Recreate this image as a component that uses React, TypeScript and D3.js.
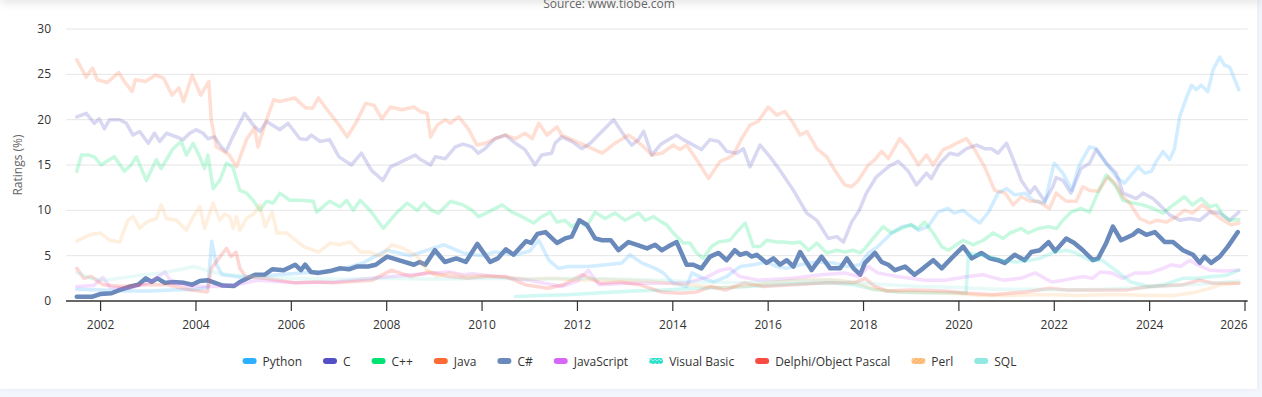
import * as d3 from "d3";

type Pt = [number, number];

const seriesNames = ["Python", "C", "C++", "Java", "C#", "JavaScript", "Visual Basic", "Delphi/Object Pascal", "Perl", "SQL"];
const seriesColors = ["#2caffe", "#544fc5", "#00e272", "#fe6a35", "#6b8abc", "#d568fb", "#2ee0ca", "#fa4b42", "#feb56a", "#91e8e1"];
const activeSeries = "C#";
const xTicks = [2002, 2004, 2006, 2008, 2010, 2012, 2014, 2016, 2018, 2020, 2022, 2024, 2026];
const yTicks = [0, 5, 10, 15, 20, 25, 30];

// [year, rating %]
const python: Pt[] = [[2001.5,1.3],[2002.0,1.2],[2002.5,1.1],[2003.0,1.1],[2003.5,1.2],[2004.0,1.3],[2004.25,1.5],[2004.33,6.6],[2004.43,4.0],[2004.55,2.9],[2005.0,2.6],[2005.5,2.8],[2006.0,3.0],[2006.5,3.2],[2007.0,3.4],[2007.5,4.2],[2008.0,5.6],[2008.5,5.0],[2009.2,6.2],[2009.6,5.3],[2010.0,5.0],[2010.27,5.4],[2010.7,5.1],[2011.0,5.5],[2011.19,6.7],[2011.4,4.5],[2011.6,3.6],[2011.8,3.8],[2012.23,3.8],[2012.6,4.0],[2012.93,4.2],[2013.1,5.1],[2013.35,4.2],[2013.63,3.6],[2013.8,3.1],[2014.0,2.0],[2014.29,1.6],[2014.4,3.1],[2014.64,2.5],[2014.85,2.1],[2015.13,2.7],[2015.41,3.8],[2015.69,4.0],[2015.97,4.3],[2016.18,3.8],[2016.39,3.6],[2016.67,4.0],[2017.02,4.3],[2017.37,4.2],[2017.65,3.8],[2017.93,4.0],[2018.1,5.3],[2018.3,6.0],[2018.59,7.5],[2018.8,8.2],[2019.0,8.4],[2019.15,7.8],[2019.35,8.2],[2019.56,9.8],[2019.77,10.2],[2019.9,9.7],[2020.09,10.0],[2020.3,9.1],[2020.44,8.6],[2020.62,9.8],[2020.82,11.9],[2021.0,12.4],[2021.17,11.7],[2021.38,11.9],[2021.59,11.0],[2021.8,10.8],[2021.92,13.5],[2022.0,15.2],[2022.18,14.1],[2022.37,12.2],[2022.51,14.8],[2022.6,15.7],[2022.74,17.0],[2022.88,16.8],[2023.09,15.2],[2023.3,13.7],[2023.47,13.0],[2023.65,14.1],[2023.76,14.8],[2023.9,14.1],[2024.04,14.3],[2024.14,15.4],[2024.28,16.5],[2024.42,15.6],[2024.52,16.8],[2024.63,20.3],[2024.77,22.4],[2024.88,23.8],[2024.98,23.3],[2025.08,23.8],[2025.22,23.1],[2025.33,25.5],[2025.47,26.9],[2025.57,26.0],[2025.68,25.8],[2025.87,23.3]];

const cLang: Pt[] = [[2001.5,20.3],[2001.7,20.7],[2001.87,19.6],[2001.97,20.1],[2002.08,19.0],[2002.19,20.0],[2002.4,20.0],[2002.54,19.6],[2002.68,18.3],[2002.82,18.7],[2003.0,17.4],[2003.13,18.5],[2003.24,17.6],[2003.38,18.5],[2003.59,18.1],[2003.73,17.8],[2003.87,18.5],[2004.0,18.9],[2004.15,18.5],[2004.25,17.9],[2004.39,18.1],[2004.53,17.0],[2004.63,16.5],[2004.77,18.1],[2005.02,20.7],[2005.2,19.4],[2005.34,18.7],[2005.48,19.8],[2005.76,18.9],[2005.93,19.6],[2006.18,17.9],[2006.32,17.8],[2006.42,18.3],[2006.6,17.6],[2006.8,17.8],[2007.0,15.9],[2007.26,15.0],[2007.47,16.3],[2007.68,14.4],[2007.92,13.3],[2008.08,14.8],[2008.4,15.6],[2008.6,16.1],[2008.71,15.6],[2008.92,15.0],[2009.02,15.9],[2009.23,15.7],[2009.44,17.0],[2009.6,17.3],[2009.79,17.0],[2009.92,16.3],[2010.06,16.8],[2010.27,17.9],[2010.49,18.3],[2010.7,17.4],[2010.9,16.7],[2011.11,15.0],[2011.25,16.1],[2011.46,16.3],[2011.53,17.4],[2011.67,18.1],[2011.88,17.6],[2012.09,16.8],[2012.27,17.4],[2012.44,18.3],[2012.76,20.0],[2013.0,18.1],[2013.14,17.2],[2013.28,17.8],[2013.39,18.7],[2013.56,16.1],[2013.75,17.3],[2013.94,17.9],[2014.08,18.3],[2014.22,17.8],[2014.43,17.2],[2014.6,16.7],[2014.78,17.8],[2014.96,17.6],[2015.13,16.5],[2015.34,16.3],[2015.48,16.8],[2015.62,14.8],[2015.83,17.2],[2016.04,15.9],[2016.25,14.4],[2016.53,12.2],[2016.81,9.7],[2017.02,8.9],[2017.26,6.9],[2017.44,7.1],[2017.58,6.5],[2017.75,8.7],[2017.91,10.0],[2018.06,11.9],[2018.27,13.7],[2018.52,14.8],[2018.73,15.4],[2018.94,14.3],[2019.11,12.8],[2019.32,14.1],[2019.42,13.5],[2019.6,15.2],[2019.81,16.3],[2019.98,16.1],[2020.16,16.8],[2020.37,17.2],[2020.54,16.8],[2020.68,16.8],[2020.82,16.3],[2021.0,17.4],[2021.17,15.2],[2021.31,13.3],[2021.49,11.9],[2021.59,12.6],[2021.8,11.0],[2021.97,12.6],[2022.04,13.6],[2022.18,13.3],[2022.35,11.9],[2022.56,14.6],[2022.74,15.2],[2022.88,16.7],[2023.09,15.2],[2023.3,14.1],[2023.44,11.9],[2023.72,11.3],[2023.86,11.9],[2024.07,11.3],[2024.21,10.6],[2024.42,9.5],[2024.63,8.9],[2024.84,9.1],[2025.05,8.9],[2025.26,9.8],[2025.47,9.7],[2025.68,8.9],[2025.87,9.8]];

const cpp: Pt[] = [[2001.5,14.3],[2001.6,16.1],[2001.75,16.1],[2001.87,15.9],[2002.01,15.0],[2002.19,15.6],[2002.29,15.9],[2002.5,14.3],[2002.64,15.0],[2002.75,15.9],[2002.96,13.3],[2003.17,15.6],[2003.27,14.6],[2003.38,15.6],[2003.52,16.8],[2003.69,17.6],[2003.8,16.1],[2003.94,17.4],[2004.08,15.9],[2004.18,14.6],[2004.25,16.1],[2004.36,12.4],[2004.5,13.3],[2004.64,15.2],[2004.77,14.8],[2004.92,12.2],[2005.06,11.9],[2005.2,11.1],[2005.34,10.0],[2005.48,11.0],[2005.62,10.8],[2005.76,11.9],[2005.97,11.1],[2006.18,11.1],[2006.46,11.0],[2006.53,9.8],[2006.8,11.0],[2007.02,10.4],[2007.16,11.1],[2007.3,10.0],[2007.44,11.1],[2007.65,10.0],[2007.93,8.0],[2008.2,9.7],[2008.43,10.8],[2008.64,10.0],[2008.78,10.8],[2008.95,10.0],[2009.09,9.7],[2009.34,11.0],[2009.6,10.6],[2009.79,10.0],[2009.93,9.3],[2010.13,9.8],[2010.42,10.6],[2010.63,9.8],[2010.84,9.3],[2011.08,8.6],[2011.25,9.3],[2011.43,9.8],[2011.57,8.7],[2011.74,8.9],[2011.88,8.2],[2012.05,8.7],[2012.19,8.2],[2012.37,9.8],[2012.58,9.1],[2012.79,9.7],[2013.0,8.9],[2013.28,9.7],[2013.42,8.9],[2013.6,9.3],[2013.77,8.7],[2013.87,8.4],[2014.01,7.5],[2014.22,6.4],[2014.36,6.4],[2014.5,5.3],[2014.64,4.7],[2014.81,6.0],[2014.96,6.5],[2015.2,6.7],[2015.34,7.6],[2015.52,8.6],[2015.69,6.0],[2015.83,6.0],[2015.97,6.7],[2016.18,6.5],[2016.32,6.5],[2016.53,6.4],[2016.67,6.5],[2016.85,5.6],[2017.02,6.4],[2017.23,5.3],[2017.44,5.6],[2017.61,5.4],[2017.78,5.6],[2017.93,5.3],[2018.03,5.8],[2018.2,6.9],[2018.41,8.2],[2018.59,7.5],[2018.8,8.0],[2019.0,8.4],[2019.14,8.0],[2019.28,8.7],[2019.46,7.5],[2019.64,6.0],[2019.78,5.6],[2019.89,6.0],[2020.09,6.7],[2020.3,6.2],[2020.51,6.7],[2020.72,7.5],[2020.93,6.9],[2021.07,7.5],[2021.31,8.0],[2021.45,7.5],[2021.67,8.0],[2021.88,8.2],[2022.05,8.0],[2022.18,8.9],[2022.35,9.8],[2022.56,10.2],[2022.74,9.8],[2022.88,11.5],[2023.09,13.9],[2023.3,12.6],[2023.44,11.1],[2023.65,10.8],[2023.86,10.6],[2024.07,10.2],[2024.28,9.7],[2024.45,10.4],[2024.73,11.5],[2024.9,10.6],[2025.08,11.3],[2025.26,10.4],[2025.4,10.6],[2025.54,9.5],[2025.68,8.9],[2025.87,9.0]];

const java: Pt[] = [[2001.5,26.6],[2001.7,24.7],[2001.83,25.7],[2001.93,24.4],[2002.14,24.1],[2002.38,25.2],[2002.5,24.2],[2002.66,23.1],[2002.73,24.4],[2002.94,24.2],[2003.15,24.9],[2003.32,24.6],[2003.5,22.7],[2003.64,23.5],[2003.74,22.0],[2003.92,24.9],[2004.1,22.7],[2004.27,24.2],[2004.32,20.0],[2004.43,17.0],[2004.7,16.1],[2004.85,14.8],[2005.06,17.8],[2005.23,19.1],[2005.3,17.0],[2005.48,20.0],[2005.63,22.2],[2005.76,22.0],[2006.07,22.4],[2006.3,21.3],[2006.45,21.3],[2006.57,22.4],[2006.75,21.1],[2007.03,19.2],[2007.17,18.1],[2007.35,19.6],[2007.56,21.8],[2007.73,21.6],[2007.9,20.1],[2008.08,21.4],[2008.32,21.1],[2008.57,21.4],[2008.71,20.9],[2008.85,20.7],[2008.92,18.1],[2009.06,19.4],[2009.23,20.0],[2009.33,19.6],[2009.51,20.3],[2009.62,19.6],[2009.72,18.9],[2009.89,17.2],[2010.07,17.4],[2010.27,17.9],[2010.49,18.3],[2010.7,17.9],[2010.9,18.5],[2011.05,17.9],[2011.19,19.6],[2011.36,18.3],[2011.57,19.2],[2011.67,18.3],[2011.88,17.8],[2012.23,17.0],[2012.52,16.3],[2012.79,17.4],[2013.07,18.3],[2013.21,17.8],[2013.39,17.0],[2013.56,16.1],[2013.77,16.3],[2014.01,17.2],[2014.15,16.7],[2014.29,17.2],[2014.5,15.6],[2014.75,13.5],[2014.99,15.4],[2015.13,15.7],[2015.27,16.1],[2015.44,17.9],[2015.62,19.4],[2015.79,19.8],[2016.0,21.4],[2016.18,20.5],[2016.35,20.9],[2016.53,19.6],[2016.67,18.3],[2016.81,18.7],[2017.02,16.8],[2017.23,15.9],[2017.4,14.4],[2017.61,12.8],[2017.75,12.6],[2017.89,13.3],[2018.1,15.0],[2018.24,15.6],[2018.38,16.5],[2018.52,15.7],[2018.76,17.9],[2018.94,16.8],[2019.15,15.0],[2019.32,16.1],[2019.46,15.0],[2019.67,16.7],[2019.81,17.0],[2019.95,17.4],[2020.16,17.9],[2020.33,16.7],[2020.54,14.8],[2020.75,12.2],[2020.97,11.9],[2021.14,10.6],[2021.31,11.5],[2021.49,11.0],[2021.66,11.0],[2021.9,10.2],[2022.04,11.9],[2022.25,11.0],[2022.46,11.0],[2022.6,12.6],[2022.74,12.2],[2022.92,12.1],[2023.13,13.7],[2023.27,13.0],[2023.44,11.5],[2023.58,10.8],[2023.79,9.1],[2024.0,8.6],[2024.14,8.9],[2024.35,8.7],[2024.56,9.3],[2024.73,10.0],[2024.9,9.7],[2025.11,10.6],[2025.33,9.7],[2025.54,8.9],[2025.71,8.4],[2025.87,8.6]];

const csharp: Pt[] = [[2001.5,0.47],[2001.83,0.47],[2001.99,0.77],[2002.23,0.85],[2002.39,1.2],[2002.63,1.6],[2002.79,1.8],[2002.95,2.5],[2003.07,2.1],[2003.19,2.5],[2003.35,2.0],[2003.51,2.1],[2003.75,2.0],[2003.92,1.8],[2004.08,2.2],[2004.24,2.3],[2004.4,2.0],[2004.56,1.7],[2004.8,1.65],[2004.92,2.1],[2005.08,2.5],[2005.24,2.9],[2005.44,2.9],[2005.6,3.5],[2005.84,3.4],[2006.08,4.0],[2006.2,3.4],[2006.29,4.0],[2006.41,3.2],[2006.57,3.1],[2006.81,3.3],[2007.01,3.6],[2007.21,3.5],[2007.37,3.8],[2007.61,3.8],[2007.77,4.0],[2008.01,4.9],[2008.25,4.5],[2008.57,4.0],[2008.69,4.3],[2008.81,4.0],[2009.01,5.6],[2009.22,4.3],[2009.46,4.7],[2009.66,4.3],[2009.9,6.3],[2010.17,4.3],[2010.33,4.7],[2010.5,5.7],[2010.66,5.1],[2010.92,6.6],[2011.03,6.4],[2011.16,7.4],[2011.33,7.6],[2011.47,6.9],[2011.57,6.4],[2011.74,6.9],[2011.88,7.1],[2012.04,8.9],[2012.2,8.4],[2012.37,6.9],[2012.52,6.7],[2012.7,6.7],[2012.86,5.6],[2013.07,6.5],[2013.25,6.2],[2013.46,5.8],[2013.63,6.2],[2013.77,5.6],[2013.9,6.0],[2014.08,6.5],[2014.29,4.0],[2014.43,4.0],[2014.6,3.6],[2014.78,4.9],[2014.96,5.3],[2015.13,4.5],[2015.3,5.6],[2015.41,5.1],[2015.55,5.3],[2015.65,4.9],[2015.76,5.1],[2015.97,4.2],[2016.11,4.7],[2016.25,4.0],[2016.39,4.5],[2016.53,3.8],[2016.67,5.4],[2016.91,3.4],[2017.12,4.9],[2017.3,3.6],[2017.51,3.6],[2017.65,4.7],[2017.79,3.6],[2017.93,2.9],[2018.03,4.2],[2018.24,5.3],[2018.38,4.3],[2018.52,4.0],[2018.66,3.4],[2018.87,3.8],[2019.07,2.9],[2019.25,3.6],[2019.46,4.5],[2019.64,3.6],[2019.84,4.7],[2020.09,6.0],[2020.27,4.7],[2020.47,5.3],[2020.65,4.7],[2020.82,4.5],[2020.96,4.2],[2021.17,5.1],[2021.38,4.5],[2021.52,5.4],[2021.7,5.6],[2021.88,6.5],[2022.02,5.5],[2022.25,6.9],[2022.42,6.4],[2022.6,5.6],[2022.81,4.5],[2022.92,4.7],[2023.09,6.4],[2023.23,8.2],[2023.4,6.7],[2023.65,7.3],[2023.76,7.8],[2023.93,7.3],[2024.11,7.6],[2024.32,6.5],[2024.49,6.5],[2024.7,5.6],[2024.91,5.1],[2025.05,4.2],[2025.15,4.9],[2025.29,4.2],[2025.47,4.9],[2025.64,6.0],[2025.85,7.6]];

const javascript: Pt[] = [[2001.5,1.6],[2001.85,1.7],[2002.05,2.6],[2002.2,1.5],[2002.6,1.4],[2003.0,2.0],[2003.27,2.9],[2003.35,3.2],[2003.5,2.0],[2003.9,1.6],[2004.47,1.6],[2004.87,1.8],[2005.3,2.3],[2006.08,2.0],[2006.9,2.1],[2007.7,2.5],[2008.5,2.9],[2009.3,3.2],[2009.6,2.9],[2009.8,3.0],[2010.3,2.7],[2010.97,2.3],[2011.67,1.6],[2012.0,2.2],[2012.23,3.4],[2012.45,1.8],[2013.07,1.95],[2013.8,1.95],[2014.3,2.0],[2014.7,2.6],[2015.0,3.4],[2015.2,3.6],[2015.4,2.7],[2015.8,2.3],[2016.5,2.5],[2017.1,2.9],[2017.6,3.1],[2017.9,2.7],[2018.1,3.8],[2018.3,3.1],[2018.7,2.7],[2019.3,2.3],[2019.7,2.3],[2020.2,2.7],[2020.5,2.9],[2020.93,2.3],[2021.3,2.5],[2021.6,3.1],[2021.8,2.5],[2021.95,2.1],[2022.2,2.3],[2022.6,2.7],[2022.8,2.5],[2022.97,3.2],[2023.2,3.1],[2023.44,2.5],[2023.7,3.1],[2024.0,3.1],[2024.28,3.6],[2024.45,4.0],[2024.65,3.8],[2024.84,4.5],[2025.0,4.0],[2025.26,3.4],[2025.55,3.3],[2025.87,3.4]];

const visualBasic: Pt[] = [[2010.7,0.5],[2011.2,0.6],[2011.8,0.7],[2012.5,0.9],[2013.2,1.1],[2013.8,1.2],[2014.5,1.4],[2015.2,1.5],[2015.9,1.7],[2016.6,1.9],[2017.3,2.0],[2017.8,1.8],[2018.2,1.3],[2018.7,1.0],[2019.3,0.9],[2019.8,0.9],[2020.15,0.85],[2020.2,5.3],[2020.4,5.1],[2020.7,4.8],[2020.9,4.5],[2021.2,4.3],[2021.5,4.5],[2021.7,4.7],[2022.0,5.4],[2022.25,5.6],[2022.45,5.3],[2022.74,4.5],[2023.0,4.5],[2023.36,3.1],[2023.6,2.1],[2024.0,1.6],[2024.3,1.8],[2024.7,2.5],[2025.0,2.5],[2025.3,2.7],[2025.6,2.8],[2025.87,3.4]];

const delphi: Pt[] = [[2001.5,3.6],[2001.65,2.5],[2001.8,2.7],[2002.05,1.8],[2002.45,1.6],[2002.85,1.8],[2003.4,1.8],[2003.9,1.2],[2004.24,1.0],[2004.32,3.6],[2004.48,4.7],[2004.64,5.8],[2004.74,4.9],[2004.84,5.4],[2004.92,3.6],[2005.04,2.7],[2005.44,2.5],[2006.08,2.0],[2006.5,2.1],[2006.9,2.0],[2007.7,2.3],[2008.1,3.4],[2008.5,2.7],[2008.9,3.2],[2009.3,2.7],[2009.7,2.5],[2010.1,2.7],[2010.5,2.7],[2010.9,1.8],[2011.38,1.4],[2011.7,1.8],[2012.1,2.9],[2012.5,1.95],[2012.9,2.1],[2013.3,1.8],[2013.75,1.0],[2014.15,0.85],[2014.5,1.0],[2014.8,1.6],[2015.1,1.2],[2015.5,2.0],[2015.9,1.6],[2016.5,1.8],[2017.2,2.0],[2017.8,2.0],[2018.03,2.5],[2018.24,1.6],[2018.5,1.1],[2019.0,1.2],[2019.7,1.1],[2020.2,0.85],[2020.7,0.7],[2021.4,1.0],[2021.9,1.4],[2022.3,1.2],[2023.0,1.2],[2023.5,1.2],[2024.0,1.6],[2024.7,1.8],[2025.05,2.3],[2025.33,1.95],[2025.87,1.95]];

const perl: Pt[] = [[2001.5,6.6],[2001.77,7.3],[2002.0,7.5],[2002.19,6.7],[2002.4,6.5],[2002.57,8.9],[2002.68,9.3],[2002.82,8.0],[2002.96,8.7],[2003.17,9.1],[2003.27,10.6],[2003.38,9.1],[2003.59,8.9],[2003.8,7.8],[2003.94,9.3],[2004.08,10.4],[2004.18,8.0],[2004.36,10.8],[2004.5,8.9],[2004.6,9.6],[2004.71,9.3],[2004.78,8.0],[2004.85,9.3],[2004.92,7.8],[2005.06,9.1],[2005.23,9.7],[2005.34,10.6],[2005.45,8.2],[2005.6,9.8],[2005.7,7.5],[2005.9,7.5],[2006.26,6.0],[2006.57,5.4],[2006.82,6.4],[2007.0,6.2],[2007.24,6.5],[2007.45,5.4],[2007.65,5.4],[2007.87,4.9],[2008.11,6.2],[2008.36,5.8],[2008.64,4.9],[2008.85,3.4],[2009.05,2.7],[2009.34,3.1],[2009.62,2.7],[2010.0,2.8],[2010.5,2.6],[2011.0,2.4],[2011.5,2.5],[2012.0,2.3],[2012.5,2.4],[2013.0,2.3],[2013.5,2.2],[2014.0,1.9],[2014.5,1.7],[2015.0,1.5],[2015.5,1.6],[2016.0,2.0],[2016.5,2.3],[2017.0,2.4],[2017.5,2.3],[2017.85,2.0],[2018.2,1.3],[2018.8,1.0],[2019.5,0.9],[2020.0,0.8],[2020.5,0.6],[2021.0,0.6],[2021.5,0.7],[2022.0,0.7],[2022.5,0.6],[2023.0,0.7],[2023.5,0.7],[2024.0,0.6],[2024.5,0.6],[2024.9,0.9],[2025.2,1.3],[2025.5,1.8],[2025.87,2.0]];

const sql: Pt[] = [[2001.5,3.1],[2001.8,2.5],[2002.1,2.3],[2002.5,2.6],[2002.9,2.9],[2003.3,3.1],[2003.7,3.5],[2003.95,3.8],[2004.2,3.4],[2004.5,3.0],[2004.9,2.8],[2005.4,2.6],[2006.0,2.5],[2007.0,2.4],[2008.0,2.5],[2009.0,2.4],[2010.0,2.5],[2011.0,2.4],[2012.0,2.5],[2013.0,2.4],[2013.8,2.3],[2014.5,2.1],[2015.5,2.0],[2016.5,2.2],[2017.3,2.3],[2017.9,2.0],[2018.5,1.8],[2019.2,1.6],[2020.0,1.5],[2020.8,1.3],[2021.5,1.3],[2022.2,1.2],[2023.0,1.3],[2023.8,1.5],[2024.5,1.7],[2025.2,1.9],[2025.87,2.2]];

const seriesData = [python, cLang, cpp, java, csharp, javascript, visualBasic, delphi, perl, sql];

const FONT = "'Open Sans', 'Noto Sans', sans-serif";
const CARD_W = 1257;
const CARD_H = 389;
const plot = { left: 66, right: 1247.7, top: 29, bottom: 301 };

function measure(text: string) {
  const ctx = document.createElement("canvas").getContext("2d");
  if (!ctx) return text.length * 6.2;
  ctx.font = "12px 'Open Sans'";
  return ctx.measureText(text).width;
}

export default function App() {
  // x: 2002 tick at 100.6px, 2026 tick at 1245px
  const x = d3.scaleLinear().domain([2002, 2026]).range([100.6, 1245]);
  const y = d3.scaleLinear().domain([0, 30]).range([plot.bottom, plot.top]);
  const line = d3
    .line<Pt>()
    .x((d) => x(d[0]))
    .y((d) => y(d[1]));

  // legend layout, centred
  const symW = 14;
  const itemGap = 21;
  const widths = seriesNames.map((n) => symW + 6 + measure(n));
  const total = d3.sum(widths) + itemGap * (seriesNames.length - 1);
  let cursor = 629.5 - total / 2;
  const legendX = widths.map((w) => {
    const at = cursor;
    cursor += w + itemGap;
    return at;
  });

  const fills = seriesNames.map((n, i) =>
    n === "Visual Basic" ? "url(#pat-vb)" : n === "Perl" ? "url(#pat-perl)" : seriesColors[i]
  );
  const lastTick = xTicks[xTicks.length - 1];

  return (
    <div style={{ position: "absolute", left: 0, top: 0, width: 1262, height: 397, background: "#f3f6fc", overflow: "hidden" }}>
      <div
        style={{
          position: "absolute",
          left: 0,
          top: 0,
          width: CARD_W,
          height: CARD_H,
          background: "#fff",
          boxShadow: "0 0 6px rgba(0,0,0,0.06)",
        }}
      />
      <div
        style={{
          position: "absolute",
          left: 0,
          top: -20,
          width: 1262,
          height: 20,
          boxShadow: "0 3px 10px rgba(0,0,0,0.10)",
          background: "#fff",
        }}
      />
      <svg width={CARD_W} height={CARD_H} style={{ position: "absolute", left: 0, top: 0, fontFamily: FONT }}>
        <defs>
          <pattern id="pat-vb" width="4" height="4" patternUnits="userSpaceOnUse">
            <rect width="4" height="4" fill="#2ee0ca" />
            <path d="M0,4 L2,2 L4,4" stroke="#9ef0e4" strokeWidth="1" fill="none" />
          </pattern>
          <pattern id="pat-perl" width="3" height="3" patternUnits="userSpaceOnUse" patternTransform="rotate(45)">
            <rect width="3" height="3" fill="#feb56a" />
            <line x1="0" y1="0" x2="0" y2="3" stroke="#ffe3c4" strokeWidth="1.2" />
          </pattern>
        </defs>

        <text x={609} y={8} textAnchor="middle" fontSize={12} fill="#666">
          Source: www.tiobe.com
        </text>

        {/* grid */}
        {yTicks
          .filter((t) => t !== 0)
          .map((t) => (
            <line key={t} x1={plot.left} x2={plot.right} y1={y(t)} y2={y(t)} stroke="#e6e6e6" strokeWidth={1} />
          ))}

        {/* y labels */}
        {yTicks.map((t) => (
          <text key={t} x={51} y={y(t) + 4} textAnchor="end" fontSize={12} fill="#333">
            {t}
          </text>
        ))}
        <text transform={`translate(22,165) rotate(-90)`} textAnchor="middle" fontSize={12} fill="#666">
          Ratings (%)
        </text>

        {/* series */}
        {seriesData.map((data, i) => {
          const active = seriesNames[i] === activeSeries;
          return (
            <path
              key={seriesNames[i]}
              d={line(data) ?? ""}
              fill="none"
              stroke={seriesColors[i]}
              strokeWidth={active ? 4.5 : 3.5}
              strokeLinejoin="round"
              strokeLinecap="round"
              opacity={active ? 1 : 0.22}
            />
          );
        })}

        {/* x axis */}
        <line x1={plot.left} x2={plot.right} y1={plot.bottom} y2={plot.bottom} stroke="#333" strokeWidth={1.5} />
        {xTicks.map((t) => (
          <g key={t}>
            <line x1={x(t)} x2={x(t)} y1={plot.bottom} y2={plot.bottom + 10} stroke="#333" strokeWidth={1.2} />
            <text
              x={t === lastTick ? plot.right : x(t)}
              y={329}
              textAnchor={t === lastTick ? "end" : "middle"}
              fontSize={12}
              fill="#333"
            >
              {t}
            </text>
          </g>
        ))}

        {/* legend */}
        {seriesNames.map((n, i) => (
          <g key={n} transform={`translate(${legendX[i]},361)`}>
            <rect x={0} y={-3} width={symW} height={6} rx={3} fill={fills[i]} />
            <text x={symW + 6} y={4.5} fontSize={12} fill="#333">
              {n}
            </text>
          </g>
        ))}
      </svg>
    </div>
  );
}
